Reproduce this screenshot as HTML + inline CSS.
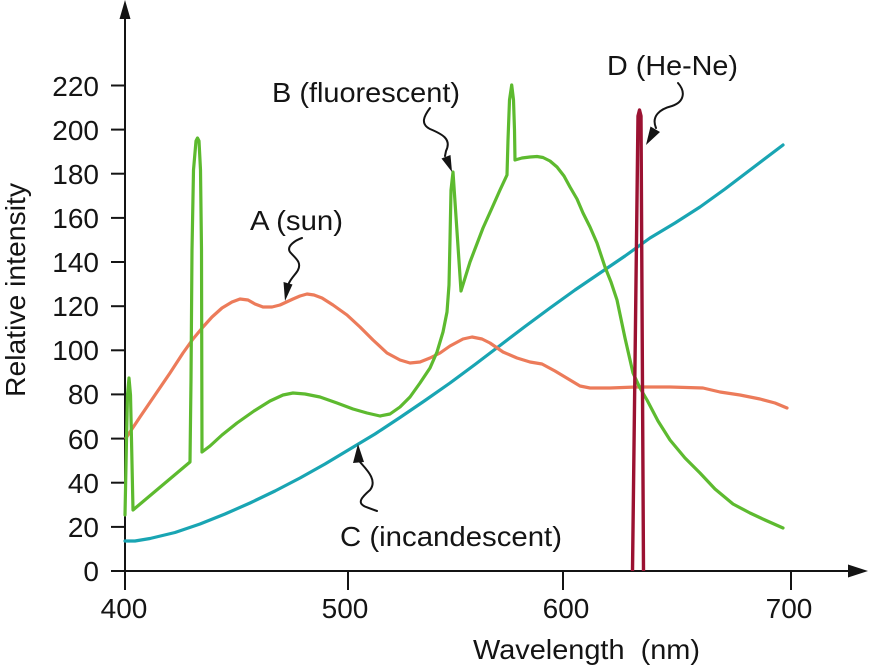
<!DOCTYPE html>
<html>
<head>
<meta charset="utf-8">
<style>
  html,body{margin:0;padding:0;background:#fff;}
  svg{display:block;}
  text{font-family:"Liberation Sans",Arial,sans-serif;font-size:28px;fill:#141414;}
</style>
</head>
<body>
<svg width="875" height="668" viewBox="0 0 875 668" xmlns="http://www.w3.org/2000/svg">
  <rect width="875" height="668" fill="#fff"/>

  <!-- Axes -->
  <g stroke="#141414" stroke-width="2" fill="none">
    <line x1="125" y1="571" x2="125" y2="16"/>
    <line x1="111" y1="571" x2="852" y2="571"/>
    <!-- y ticks -->
    <line x1="111" y1="526.9" x2="125" y2="526.9"/>
    <line x1="111" y1="482.7" x2="125" y2="482.7"/>
    <line x1="111" y1="438.6" x2="125" y2="438.6"/>
    <line x1="111" y1="394.4" x2="125" y2="394.4"/>
    <line x1="111" y1="350.3" x2="125" y2="350.3"/>
    <line x1="111" y1="306.2" x2="125" y2="306.2"/>
    <line x1="111" y1="262.0" x2="125" y2="262.0"/>
    <line x1="111" y1="217.9" x2="125" y2="217.9"/>
    <line x1="111" y1="173.7" x2="125" y2="173.7"/>
    <line x1="111" y1="129.6" x2="125" y2="129.6"/>
    <line x1="111" y1="85.5" x2="125" y2="85.5"/>
    <!-- x ticks -->
    <line x1="125" y1="571" x2="125" y2="590"/>
    <line x1="348" y1="571" x2="348" y2="590"/>
    <line x1="563" y1="571" x2="563" y2="590"/>
    <line x1="791" y1="571" x2="791" y2="590"/>
  </g>
  <polygon points="125,0 119.5,19 130.5,19" fill="#141414"/>
  <polygon points="868,571 848,564.5 848,577.5" fill="#141414"/>

  <!-- Y tick labels -->
  <g text-anchor="end">
    <text x="99" y="581">0</text>
    <text x="99" y="537">20</text>
    <text x="99" y="493">40</text>
    <text x="99" y="449">60</text>
    <text x="99" y="404">80</text>
    <text x="99" y="360">100</text>
    <text x="99" y="316">120</text>
    <text x="99" y="272">140</text>
    <text x="99" y="228">160</text>
    <text x="99" y="184">180</text>
    <text x="99" y="140">200</text>
    <text x="99" y="96">220</text>
  </g>
  <!-- X tick labels -->
  <g text-anchor="middle">
    <text x="124" y="618">400</text>
    <text x="345" y="618">500</text>
    <text x="566" y="618">600</text>
    <text x="789" y="618">700</text>
  </g>

  <!-- Axis titles -->
  <text x="473" y="659" textLength="227" lengthAdjust="spacingAndGlyphs" style="white-space:pre">Wavelength  (nm)</text>
  <text transform="translate(25,290) rotate(-90)" text-anchor="middle" textLength="214" lengthAdjust="spacingAndGlyphs">Relative intensity</text>

  <!-- C incandescent (teal) -->
  <polyline fill="none" stroke="#19a5b3" stroke-width="3.2" stroke-linejoin="round" stroke-linecap="round"
    points="125,541 135,541 150,538.5 175,532.5 200,524 225,514 250,503 275,491 300,478 325,464 350,449 375,434 400,417.5 425,400.5 450,383 475,364.5 500,345.5 525,326.5 550,308 575,290 600,273 625,256 650,238 675,223 700,207 725,189 750,170 783,145"/>

  <!-- A sun (orange) -->
  <polyline fill="none" stroke="#ec7b5a" stroke-width="3.2" stroke-linejoin="round" stroke-linecap="round"
    points="126,438 140,417 155,395 170,373 183,353 193,339 203,327 212,317 222,308 232,302 240,299 248,300 255,304 263,307 272,307 280,305 293,299 300,296 307,294 314,295 322,298 333,305 347,315 360,327 373,340 387,353 400,360 410,363 420,362 430,358 440,353 450,346 463,339 472,337 482,339 490,343 503,352 517,358 530,362 542,364 555,371 570,380 580,386 590,388 610,388 637,387 670,387 703,388 720,392 740,395 760,399 775,403 787,408"/>

  <!-- B fluorescent (green) -->
  <polyline fill="none" stroke="#5dba2f" stroke-width="3.2" stroke-linejoin="round" stroke-linecap="round"
    points="125,515 126.5,440 127.5,395 129,378 130.5,395 131.5,440 133,510 190,462 191,380 192,250 193.5,170 196,141 197.5,138 199,141 200.5,170 201.5,250 202,452 210,446 222,435 237,423 254,411 270,401 283,395 293,393 305,394 320,397 337,403 353,409 367,413 380,416 390,414 400,407 410,397 420,383 430,368 437,352 443,332 447,312 449,285 450,240 451,190 453,172 461,291 470,262 483,228 492,208 500,190 507,175 508,140 509.5,100 511.7,85 513.5,100 514.5,130 515,160 522,158 530,157 537,156.5 543,157.5 550,161 557,167 564,176 570,187 577,199 583,213 590,227 597,243 605,267 611,282 617,300 625,338 633,373 640,388 647,400 658,421 670,440 685,458 700,473 715,489 733,504 750,513 765,520 783,528"/>

  <!-- D He-Ne (dark red) -->
  <polyline fill="none" stroke="#9b1232" stroke-width="3.4" stroke-linejoin="round"
    points="632.5,571 638,116 639.5,110 641,116 643.5,571"/>

  <!-- Annotation squiggles -->
  <g fill="none" stroke="#141414" stroke-width="2" stroke-linecap="round">
    <path d="M302,238 C296,240 286,246 290,252 C295,258 302,262 298,270 C296,274 292,277 289,283"/>
    <path d="M430,108 C424,116 420,124 430,129 C442,134 452,139 446,151 L445,156"/>
    <path d="M360,462 C366,469 378,480 370,490 C362,497 356,503 366,507 L377,511"/>
    <path d="M678,83 C686,92 684,102 672,106 C660,109 651,116 656,128"/>
  </g>
  <g fill="#141414">
    <polygon points="285,301 283.5,282 292.5,284.5"/>
    <polygon points="452,172 441.5,158.5 450.5,155"/>
    <polygon points="358,444 353,463 364,462"/>
    <polygon points="646,145 650.5,126.5 660,132"/>
  </g>

  <!-- Labels -->
  <text x="250" y="230" textLength="93" lengthAdjust="spacingAndGlyphs">A (sun)</text>
  <text x="272" y="102" textLength="188" lengthAdjust="spacingAndGlyphs">B (fluorescent)</text>
  <text x="340" y="546" textLength="222" lengthAdjust="spacingAndGlyphs">C (incandescent)</text>
  <text x="607" y="75" textLength="131" lengthAdjust="spacingAndGlyphs">D (He-Ne)</text>
</svg>
</body>
</html>
